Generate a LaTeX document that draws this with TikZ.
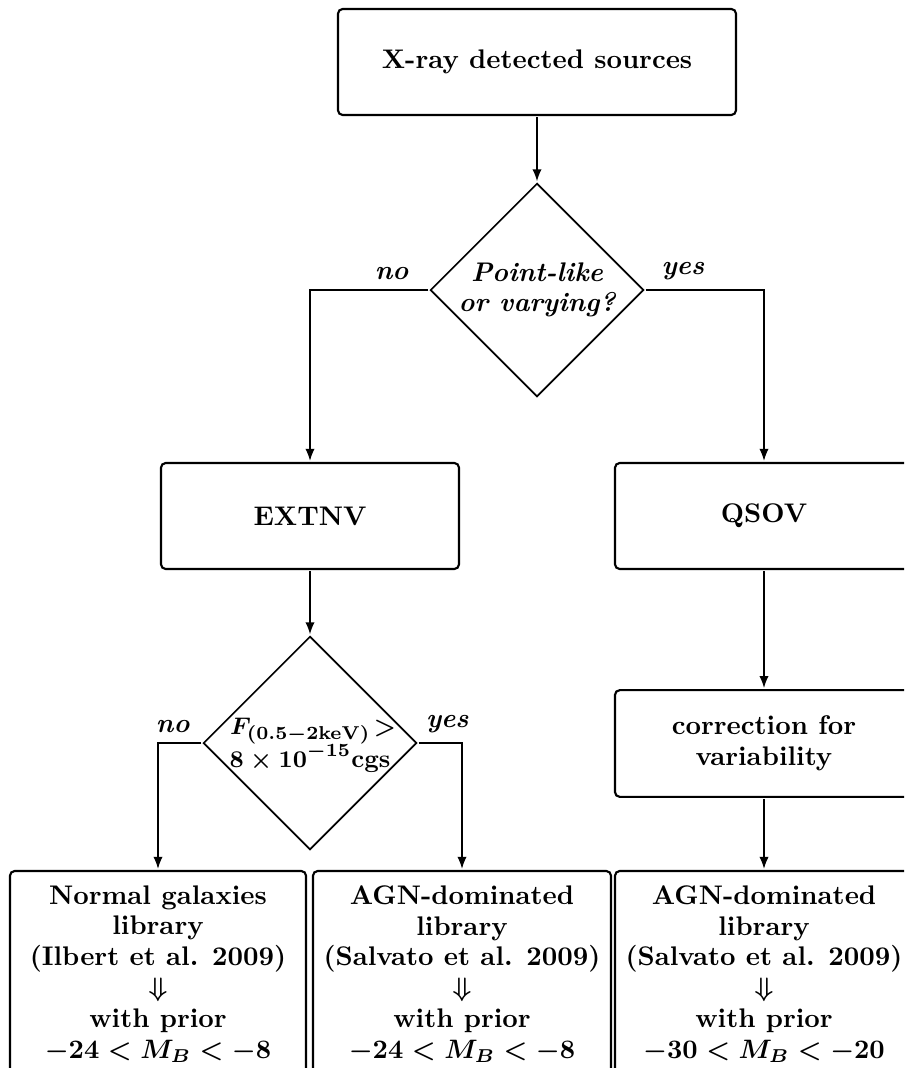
\documentclass[tikz,border=0pt]{standalone}
\usetikzlibrary{shapes.geometric,arrows.meta}
\begin{document}
\begin{tikzpicture}[x=0.375pt,y=-0.375pt,scale=2,
  every node/.append style={transform shape},
  txt/.style={font=\fontsize{10.1}{11.6}\selectfont\bfseries\boldmath, align=center},
  box/.style={txt, draw, line width=1.6pt, rounded corners=3.5pt, minimum width=111.75pt, minimum height=39.75pt, inner sep=0pt},
  dia/.style={draw, diamond, aspect=1, line width=1.3pt, minimum size=80.25pt, inner sep=0pt},
  lbl/.style={font=\fontsize{10.1}{11.6}\selectfont\bfseries\itshape},
  dtxt/.style={font=\fontsize{9.5}{11}\selectfont\bfseries\boldmath, inner sep=0pt, anchor=base},
  arr/.style={line width=1.1pt, -{Latex[length=9pt,width=7pt]}}]
\useasboundingbox (0,0) rectangle (904,1068);
\clip (0,0) rectangle (904,1068);

\node[box, minimum width=149.25pt] (src) at (537,62) {X-ray detected sources};
\node[dia] (d1) at (537,290) {};
\node[txt, font=\fontsize{10.1}{11.3}\selectfont\bfseries\itshape] (d1t) at (d1.center) {Point-like\\or varying?};
\node[box] (ext) at (310,516) {EXTNV};
\node[box] (qso) at (764,516) {QSOV};
\node[dia] (d2) at (310,743) {};
\node[dtxt] (d2a) at (313,734) {$F_{(0.5-2\mathrm{keV})}\!>$};
\node[dtxt] (d2b) at (310,767) {$8\times10^{-15}$cgs};
\node[box, minimum height=40pt] (corr) at (764,743.5) {correction for\\variability};
\node[box, minimum width=111pt, minimum height=77.25pt] (b1) at (158,974) {Normal galaxies\\library\\(Ilbert et al. 2009)\\$\Downarrow$\\with prior\\$-24<M_B<-8$};
\node[box, minimum height=77.25pt] (b2) at (462,974) {AGN-dominated\\library\\(Salvato et al. 2009)\\$\Downarrow$\\with prior\\$-24<M_B<-8$};
\node[box, minimum height=77.25pt] (b3) at (764,974) {AGN-dominated\\library\\(Salvato et al. 2009)\\$\Downarrow$\\with prior\\$-30<M_B<-20$};

\draw[arr] (src.south) -- (d1.north);
\draw[arr] (d1.west) -| node[lbl, pos=0.155, above] {no} (ext.north);
\draw[arr] (d1.east) -| node[lbl, pos=0.157, above] {yes} (qso.north);
\draw[arr] (ext.south) -- (d2.north);
\draw[arr] (d2.west) -| node[lbl, pos=0.33, above] {no} (b1.north);
\draw[arr] (d2.east) -| node[lbl, pos=0.33, above] {yes} (b2.north);
\draw[arr] (qso.south) -- (corr.north);
\draw[arr] (corr.south) -- (b3.north);
\end{tikzpicture}
\end{document}
